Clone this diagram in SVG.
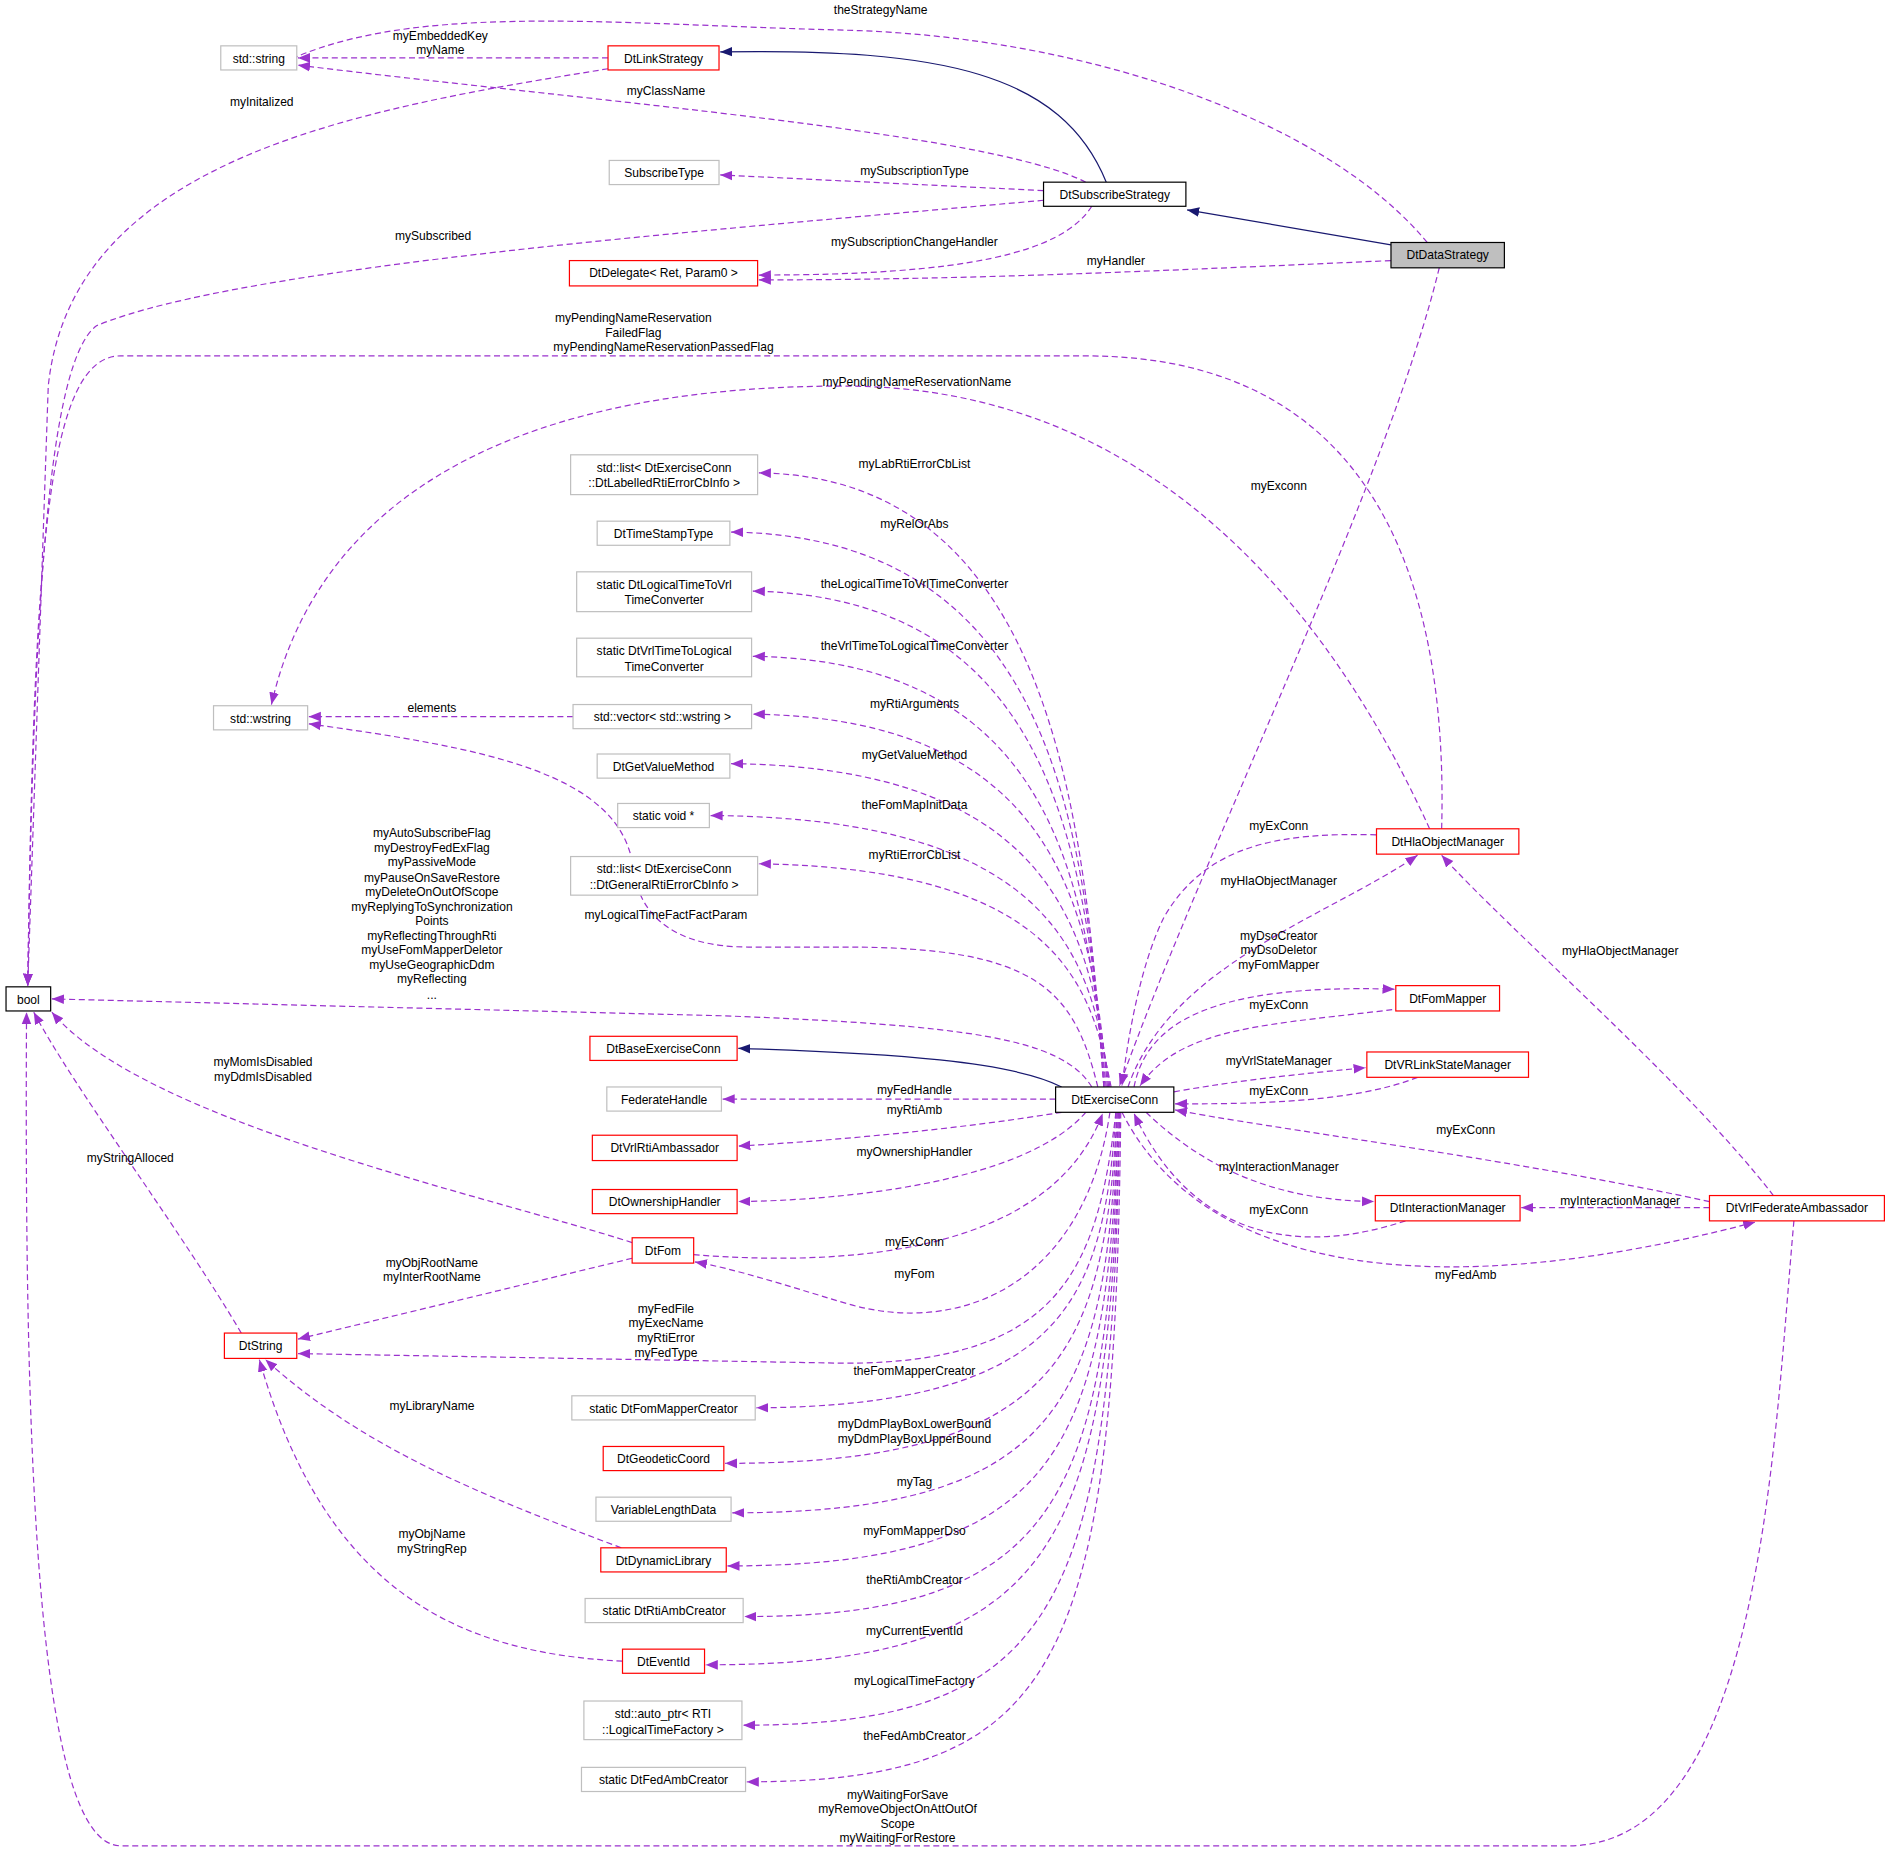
<svg xmlns="http://www.w3.org/2000/svg" width="1891" height="1853" viewBox="0 0 1891 1853">
<style>
text{font-family:"Liberation Sans",Arial,sans-serif;font-size:10px;fill:#000}
.n text,.l{text-anchor:middle}
.g{fill:#fff;stroke:#bfbfbf}
.r{fill:#fff;stroke:#ff0000}
.k{fill:#fff;stroke:#000}
.d{fill:none;stroke:#9a32cd;stroke-dasharray:5,3}
.s{fill:none;stroke:#191970}
</style>
<defs>
<marker id="a" viewBox="0 0 10 10" refX="10" refY="5" markerWidth="10" markerHeight="10" markerUnits="userSpaceOnUse" orient="auto"><path d="M0,1L10,5L0,9z" fill="#9a32cd"/></marker>
<marker id="b" viewBox="0 0 10 10" refX="10" refY="5" markerWidth="10" markerHeight="10" markerUnits="userSpaceOnUse" orient="auto"><path d="M0,1L10,5L0,9z" fill="#191970"/></marker>
</defs>
<rect width="1891" height="1853" fill="#fff"/>
<g transform="scale(1.2064)">
<g id="edges">
<path class="d" marker-end="url(#a)" d="M1183,201 C1100,100 900,30 700,25 C500,20 330,0 225,57"/>
<path class="d" marker-end="url(#a)" d="M504,48 L247,48"/>
<path class="d" marker-end="url(#a)" d="M900,151 C820,110 500,85 247,54"/>
<path class="d" marker-end="url(#a)" d="M504,57 C300,90 60,130 40,320 L23,817"/>
<path class="s" marker-end="url(#b)" d="M917,151 C880,60 780,40 597,43"/>
<path class="s" marker-end="url(#b)" d="M1153,203 L984,174"/>
<path class="d" marker-end="url(#a)" d="M865,158 L597,145"/>
<path class="d" marker-end="url(#a)" d="M865,166 C600,190 200,220 80,270 C40,300 28,500 23,817"/>
<path class="d" marker-end="url(#a)" d="M905,171 C880,210 800,228 629,228"/>
<path class="d" marker-end="url(#a)" d="M1153,216 C950,225 800,232 629,232"/>
<path class="d" marker-end="url(#a)" d="M1193,222 C1150,400 1000,700 928,900"/>
<path class="d" marker-end="url(#a)" d="M1195,687 C1200,500 1150,295 900,295 L100,295 C40,295 28,450 23,817"/>
<path class="d" marker-end="url(#a)" d="M1185,687 C1100,500 950,320 700,320 C400,320 260,430 225,584"/>
<path class="d" marker-end="url(#a)" d="M915,901 C900,700 880,395 629,392"/>
<path class="d" marker-end="url(#a)" d="M915,901 C900,700 880,445 606,441"/>
<path class="d" marker-end="url(#a)" d="M916,901 C900,720 880,495 624,490"/>
<path class="d" marker-end="url(#a)" d="M917,901 C900,740 880,548 624,544"/>
<path class="d" marker-end="url(#a)" d="M918,901 C905,760 880,595 624,592"/>
<path class="d" marker-end="url(#a)" d="M475,594 L256,594"/>
<path class="d" marker-end="url(#a)" d="M919,901 C905,780 880,636 606,633"/>
<path class="d" marker-end="url(#a)" d="M920,901 C905,800 880,678 589,676"/>
<path class="d" marker-end="url(#a)" d="M921,901 C905,820 880,720 629,716"/>
<path class="d" marker-end="url(#a)" d="M910,901 C890,820 860,785 700,785 L620,785 C560,785 530,760 525,720 C515,640 400,620 256,600"/>
<path class="d" marker-end="url(#a)" d="M905,901 C880,860 800,850 600,842 L43,828"/>
<path class="s" marker-end="url(#b)" d="M880,901 C840,880 740,873 612,869"/>
<path class="d" marker-end="url(#a)" d="M875,911 L599,911"/>
<path class="d" marker-end="url(#a)" d="M880,922 C800,935 700,945 612,950"/>
<path class="d" marker-end="url(#a)" d="M900,922 C850,980 700,995 612,996"/>
<path class="d" marker-end="url(#a)" d="M575,1040 C700,1050 870,1040 914,923"/>
<path class="d" marker-end="url(#a)" d="M920,922 C900,1060 800,1110 700,1080 C650,1065 610,1052 576,1046"/>
<path class="d" marker-end="url(#a)" d="M524,1030 C400,990 120,930 43,839"/>
<path class="d" marker-end="url(#a)" d="M524,1043 L247,1110"/>
<path class="d" marker-end="url(#a)" d="M200,1105 C150,1020 60,900 28,839"/>
<path class="d" marker-end="url(#a)" d="M925,922 C910,1050 880,1130 700,1130 L247,1122"/>
<path class="d" marker-end="url(#a)" d="M925,922 C915,1080 880,1165 627,1167"/>
<path class="d" marker-end="url(#a)" d="M926,922 C915,1120 880,1213 601,1213"/>
<path class="d" marker-end="url(#a)" d="M926,922 C918,1160 880,1254 607,1254"/>
<path class="d" marker-end="url(#a)" d="M927,922 C918,1200 880,1298 603,1298"/>
<path class="d" marker-end="url(#a)" d="M515,1283 C400,1240 300,1200 220,1127"/>
<path class="d" marker-end="url(#a)" d="M927,922 C920,1240 880,1340 617,1340"/>
<path class="d" marker-end="url(#a)" d="M928,922 C920,1280 880,1380 585,1380"/>
<path class="d" marker-end="url(#a)" d="M516,1377 C380,1370 270,1320 215,1127"/>
<path class="d" marker-end="url(#a)" d="M928,922 C922,1330 880,1430 616,1430"/>
<path class="d" marker-end="url(#a)" d="M929,922 C924,1380 880,1477 619,1477"/>
<path class="d" marker-end="url(#a)" d="M1487,1012 C1470,1200 1460,1530 1300,1530 L100,1530 C30,1530 20,1200 22,839"/>
<path class="d" marker-end="url(#a)" d="M1141,692 C1060,690 1000,700 965,760 C945,800 935,860 930,900"/>
<path class="d" marker-end="url(#a)" d="M935,901 C970,800 1100,760 1175,709"/>
<path class="d" marker-end="url(#a)" d="M940,901 C950,850 1000,815 1156,820"/>
<path class="d" marker-end="url(#a)" d="M1170,835 C1050,850 980,850 945,900"/>
<path class="d" marker-end="url(#a)" d="M973,905 C1030,895 1080,890 1132,885"/>
<path class="d" marker-end="url(#a)" d="M1175,893 C1120,915 1030,915 974,915"/>
<path class="d" marker-end="url(#a)" d="M1417,996 C1250,960 1050,935 974,920"/>
<path class="d" marker-end="url(#a)" d="M950,922 C1000,970 1060,995 1139,996"/>
<path class="d" marker-end="url(#a)" d="M1165,1012 C1080,1040 990,1030 940,923"/>
<path class="d" marker-end="url(#a)" d="M1417,1001 L1261,1001"/>
<path class="d" marker-end="url(#a)" d="M930,922 C1000,1060 1200,1080 1455,1013"/>
<path class="d" marker-end="url(#a)" d="M1470,991 C1400,900 1250,770 1195,709"/>
</g>
<g id="labels" class="l" text-anchor="middle">
<text x="730" y="12">theStrategyName</text>
<text x="365" y="33">myEmbeddedKey</text><text x="365" y="45">myName</text>
<text x="552" y="79">myClassName</text>
<text x="217" y="88">myInitalized</text>
<text x="758" y="145">mySubscriptionType</text>
<text x="359" y="199">mySubscribed</text>
<text x="758" y="204">mySubscriptionChangeHandler</text>
<text x="925" y="220">myHandler</text>
<text x="1060" y="406">myExconn</text>
<text x="525" y="267">myPendingNameReservation</text><text x="525" y="279">FailedFlag</text><text x="550" y="291">myPendingNameReservationPassedFlag</text>
<text x="760" y="320">myPendingNameReservationName</text>
<text x="758" y="388">myLabRtiErrorCbList</text>
<text x="758" y="438">myRelOrAbs</text>
<text x="758" y="487">theLogicalTimeToVrlTimeConverter</text>
<text x="758" y="539">theVrlTimeToLogicalTimeConverter</text>
<text x="758" y="587">myRtiArguments</text>
<text x="358" y="590">elements</text>
<text x="758" y="629">myGetValueMethod</text>
<text x="758" y="671">theFomMapInitData</text>
<text x="758" y="712">myRtiErrorCbList</text>
<text x="552" y="762">myLogicalTimeFactFactParam</text>
<text x="358" y="694">myAutoSubscribeFlag</text><text x="358" y="706">myDestroyFedExFlag</text><text x="358" y="718">myPassiveMode</text><text x="358" y="731">myPauseOnSaveRestore</text><text x="358" y="743">myDeleteOnOutOfScope</text><text x="358" y="755">myReplyingToSynchronization</text><text x="358" y="767">Points</text><text x="358" y="779">myReflectingThroughRti</text><text x="358" y="791">myUseFomMapperDeletor</text><text x="358" y="803">myUseGeographicDdm</text><text x="358" y="815">myReflecting</text><text x="358" y="828">...</text>
<text x="218" y="884">myMomIsDisabled</text><text x="218" y="896">myDdmIsDisabled</text>
<text x="108" y="963">myStringAlloced</text>
<text x="758" y="907">myFedHandle</text>
<text x="758" y="923">myRtiAmb</text>
<text x="758" y="958">myOwnershipHandler</text>
<text x="758" y="1033">myExConn</text>
<text x="758" y="1059">myFom</text>
<text x="358" y="1050">myObjRootName</text><text x="358" y="1062">myInterRootName</text>
<text x="552" y="1088">myFedFile</text><text x="552" y="1100">myExecName</text><text x="552" y="1112">myRtiError</text><text x="552" y="1125">myFedType</text>
<text x="758" y="1140">theFomMapperCreator</text>
<text x="358" y="1169">myLibraryName</text>
<text x="758" y="1184">myDdmPlayBoxLowerBound</text><text x="758" y="1196">myDdmPlayBoxUpperBound</text>
<text x="758" y="1232">myTag</text>
<text x="758" y="1272">myFomMapperDso</text>
<text x="358" y="1275">myObjName</text><text x="358" y="1287">myStringRep</text>
<text x="758" y="1313">theRtiAmbCreator</text>
<text x="758" y="1355">myCurrentEventId</text>
<text x="758" y="1397">myLogicalTimeFactory</text>
<text x="758" y="1442">theFedAmbCreator</text>
<text x="744" y="1491">myWaitingForSave</text><text x="744" y="1503">myRemoveObjectOnAttOutOf</text><text x="744" y="1515">Scope</text><text x="744" y="1527">myWaitingForRestore</text>
<text x="1060" y="688">myExConn</text>
<text x="1060" y="734">myHlaObjectManager</text>
<text x="1060" y="779">myDsoCreator</text><text x="1060" y="791">myDsoDeletor</text><text x="1060" y="803">myFomMapper</text>
<text x="1060" y="836">myExConn</text>
<text x="1060" y="883">myVrlStateManager</text>
<text x="1060" y="908">myExConn</text>
<text x="1215" y="940">myExConn</text>
<text x="1060" y="971">myInteractionManager</text>
<text x="1060" y="1006">myExConn</text>
<text x="1343" y="999">myInteractionManager</text>
<text x="1215" y="1060">myFedAmb</text>
<text x="1343" y="792">myHlaObjectManager</text>
</g>
<g class="n">
<g id="std_string"><rect class="g" x="183" y="38" width="63" height="20"/><text x="214.5" y="52">std::string</text></g>
<g id="DtLinkStrategy"><rect class="r" x="504" y="38" width="92" height="20"/><text x="550" y="52">DtLinkStrategy</text></g>
<g id="SubscribeType"><rect class="g" x="505" y="133" width="91" height="20"/><text x="550.5" y="147">SubscribeType</text></g>
<g id="DtSubscribeStrategy"><rect class="k" x="865" y="151" width="118" height="20"/><text x="924" y="165">DtSubscribeStrategy</text></g>
<g id="DtDataStrategy"><rect x="1153" y="201" width="94" height="21" fill="#bfbfbf" stroke="#000"/><text x="1200" y="215">DtDataStrategy</text></g>
<g id="DtDelegate"><rect class="r" x="472" y="216" width="156" height="21"/><text x="550" y="230">DtDelegate&lt; Ret, Param0 &gt;</text></g>
<g id="list_lab"><rect class="g" x="473" y="377" width="155" height="33"/><text x="550.5" y="391">std::list&lt; DtExerciseConn</text><text x="550.5" y="404">::DtLabelledRtiErrorCbInfo &gt;</text></g>
<g id="DtTimeStampType"><rect class="g" x="495" y="432" width="110" height="20"/><text x="550" y="446">DtTimeStampType</text></g>
<g id="LT2Vrl"><rect class="g" x="478" y="474" width="145" height="33"/><text x="550.5" y="488">static DtLogicalTimeToVrl</text><text x="550.5" y="501">TimeConverter</text></g>
<g id="Vrl2LT"><rect class="g" x="478" y="529" width="145" height="32"/><text x="550.5" y="543">static DtVrlTimeToLogical</text><text x="550.5" y="556">TimeConverter</text></g>
<g id="std_wstring"><rect class="g" x="177" y="585" width="78" height="20"/><text x="216" y="599">std::wstring</text></g>
<g id="vector_wstring"><rect class="g" x="475" y="584" width="148" height="20"/><text x="549" y="598">std::vector&lt; std::wstring &gt;</text></g>
<g id="DtGetValueMethod"><rect class="g" x="495" y="625" width="110" height="20"/><text x="550" y="639">DtGetValueMethod</text></g>
<g id="static_void"><rect class="g" x="512" y="666" width="76" height="20"/><text x="550" y="680">static void *</text></g>
<g id="list_gen"><rect class="g" x="473" y="710" width="155" height="32"/><text x="550.5" y="724">std::list&lt; DtExerciseConn</text><text x="550.5" y="737">::DtGeneralRtiErrorCbInfo &gt;</text></g>
<g id="bool"><rect class="k" x="5" y="818" width="37" height="20"/><text x="23.5" y="832">bool</text></g>
<g id="DtBaseExerciseConn"><rect class="r" x="489" y="859" width="122" height="20"/><text x="550" y="873">DtBaseExerciseConn</text></g>
<g id="FederateHandle"><rect class="g" x="503" y="901" width="95" height="20"/><text x="550.5" y="915">FederateHandle</text></g>
<g id="DtExerciseConn"><rect class="k" x="875" y="901" width="98" height="21"/><text x="924" y="915">DtExerciseConn</text></g>
<g id="DtVrlRtiAmbassador"><rect class="r" x="491" y="941" width="120" height="21"/><text x="551" y="955">DtVrlRtiAmbassador</text></g>
<g id="DtOwnershipHandler"><rect class="r" x="491" y="986" width="120" height="20"/><text x="551" y="1000">DtOwnershipHandler</text></g>
<g id="DtFom"><rect class="r" x="524" y="1026" width="51" height="21"/><text x="549.5" y="1040">DtFom</text></g>
<g id="DtString"><rect class="r" x="186" y="1105" width="60" height="21"/><text x="216" y="1119">DtString</text></g>
<g id="FomMapperCreator"><rect class="g" x="474" y="1157" width="152" height="20"/><text x="550" y="1171">static DtFomMapperCreator</text></g>
<g id="DtGeodeticCoord"><rect class="r" x="500" y="1199" width="100" height="20"/><text x="550" y="1213">DtGeodeticCoord</text></g>
<g id="VariableLengthData"><rect class="g" x="494" y="1241" width="112" height="20"/><text x="550" y="1255">VariableLengthData</text></g>
<g id="DtDynamicLibrary"><rect class="r" x="498" y="1283" width="104" height="20"/><text x="550" y="1297">DtDynamicLibrary</text></g>
<g id="RtiAmbCreator"><rect class="g" x="485" y="1325" width="131" height="20"/><text x="550.5" y="1339">static DtRtiAmbCreator</text></g>
<g id="DtEventId"><rect class="r" x="516" y="1367" width="68" height="20"/><text x="550" y="1381">DtEventId</text></g>
<g id="auto_ptr"><rect class="g" x="484" y="1410" width="131" height="32"/><text x="549.5" y="1424">std::auto_ptr&lt; RTI</text><text x="549.5" y="1437">::LogicalTimeFactory &gt;</text></g>
<g id="FedAmbCreator"><rect class="g" x="482" y="1465" width="136" height="20"/><text x="550" y="1479">static DtFedAmbCreator</text></g>
<g id="DtHlaObjectManager"><rect class="r" x="1141" y="687" width="118" height="21"/><text x="1200" y="701">DtHlaObjectManager</text></g>
<g id="DtFomMapper"><rect class="r" x="1157" y="817" width="86" height="21"/><text x="1200" y="831">DtFomMapper</text></g>
<g id="DtVRLinkStateManager"><rect class="r" x="1133" y="872" width="134" height="21"/><text x="1200" y="886">DtVRLinkStateManager</text></g>
<g id="DtInteractionManager"><rect class="r" x="1140" y="991" width="120" height="21"/><text x="1200" y="1005">DtInteractionManager</text></g>
<g id="DtVrlFederateAmbassador"><rect class="r" x="1417" y="991" width="145" height="21"/><text x="1489.5" y="1005">DtVrlFederateAmbassador</text></g>
</g>
</g>
</svg>
